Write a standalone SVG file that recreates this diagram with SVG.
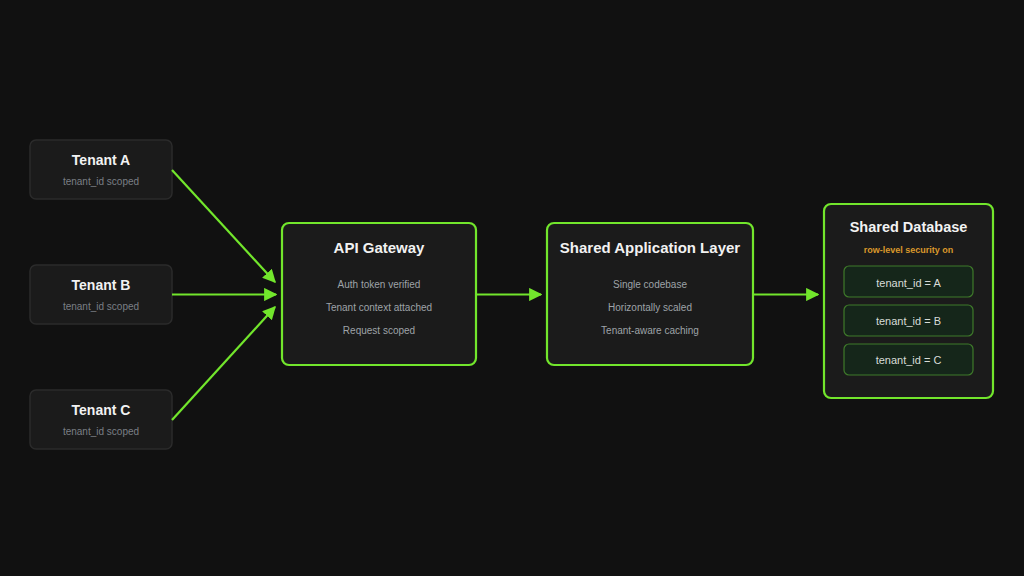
<svg xmlns="http://www.w3.org/2000/svg" width="1024" height="576" viewBox="0 0 1024 576">
<defs>
<marker id="ah" viewBox="0 0 10 10" refX="9" refY="5" markerWidth="6" markerHeight="6" orient="auto" markerUnits="strokeWidth">
<path d="M0,0 L10,5 L0,10 z" fill="#72e62c"/>
</marker>
<style>
.tenant{fill:#1b1b1b;stroke:#2b2b2b;stroke-width:1.5}
.main{fill:#1b1b1b;stroke:#72e62c;stroke-width:2.2}
.row{fill:#15261a;stroke:#3f7a2a;stroke-width:1.2}
.t{font-family:"Liberation Sans",Arial,sans-serif;font-weight:bold;fill:#f2f2f2;text-anchor:middle}
.s{font-family:"Liberation Sans",Arial,sans-serif;fill:#9ea3a8;text-anchor:middle;font-size:10px}
.ts{font-family:"Liberation Sans",Arial,sans-serif;fill:#7a7f85;text-anchor:middle;font-size:10px}
.r{font-family:"Liberation Sans",Arial,sans-serif;fill:#d8dcd8;text-anchor:middle;font-size:11px}
.c{stroke:#72e62c;stroke-width:2.2;fill:none;marker-end:url(#ah)}
</style>
</defs>
<rect width="1024" height="576" fill="#111111"/>
<g id="tenant-a">
<rect class="tenant" x="30" y="140" width="142" height="59" rx="6"/>
<text class="t" x="101" y="165" font-size="14">Tenant A</text>
<text class="ts" x="101" y="185">tenant_id scoped</text>
</g>
<g id="tenant-b">
<rect class="tenant" x="30" y="265" width="142" height="59" rx="6"/>
<text class="t" x="101" y="290" font-size="14">Tenant B</text>
<text class="ts" x="101" y="310">tenant_id scoped</text>
</g>
<g id="tenant-c">
<rect class="tenant" x="30" y="390" width="142" height="59" rx="6"/>
<text class="t" x="101" y="415" font-size="14">Tenant C</text>
<text class="ts" x="101" y="435">tenant_id scoped</text>
</g>
<g id="api-gateway">
<rect class="main" x="282" y="223" width="194" height="142" rx="7"/>
<text class="t" x="379" y="253" font-size="15">API Gateway</text>
<text class="s" x="379" y="288">Auth token verified</text>
<text class="s" x="379" y="311">Tenant context attached</text>
<text class="s" x="379" y="334">Request scoped</text>
</g>
<g id="app-layer">
<rect class="main" x="547" y="223" width="206" height="142" rx="7"/>
<text class="t" x="650" y="253" font-size="15">Shared Application Layer</text>
<text class="s" x="650" y="288">Single codebase</text>
<text class="s" x="650" y="311">Horizontally scaled</text>
<text class="s" x="650" y="334">Tenant-aware caching</text>
</g>
<g id="database">
<rect class="main" x="824" y="204" width="169" height="194" rx="7"/>
<text class="t" x="908.500" y="232" font-size="14.500">Shared Database</text>
<text class="t" x="908.500" y="253" font-size="9" style="fill:#d9982b">row-level security on</text>
<rect class="row" x="844" y="266" width="129" height="31" rx="5"/>
<text class="r" x="908.500" y="287">tenant_id = A</text>
<rect class="row" x="844" y="305" width="129" height="31" rx="5"/>
<text class="r" x="908.500" y="325">tenant_id = B</text>
<rect class="row" x="844" y="344" width="129" height="31" rx="5"/>
<text class="r" x="908.500" y="364">tenant_id = C</text>
</g>
<g id="connectors">
<line class="c" x1="172" y1="170" x2="275" y2="282"/>
<line class="c" x1="172" y1="294.500" x2="276" y2="294.500"/>
<line class="c" x1="172" y1="420" x2="275" y2="307"/>
<line class="c" x1="476" y1="294.500" x2="541" y2="294.500"/>
<line class="c" x1="753" y1="294.500" x2="818" y2="294.500"/>
</g>
</svg>
